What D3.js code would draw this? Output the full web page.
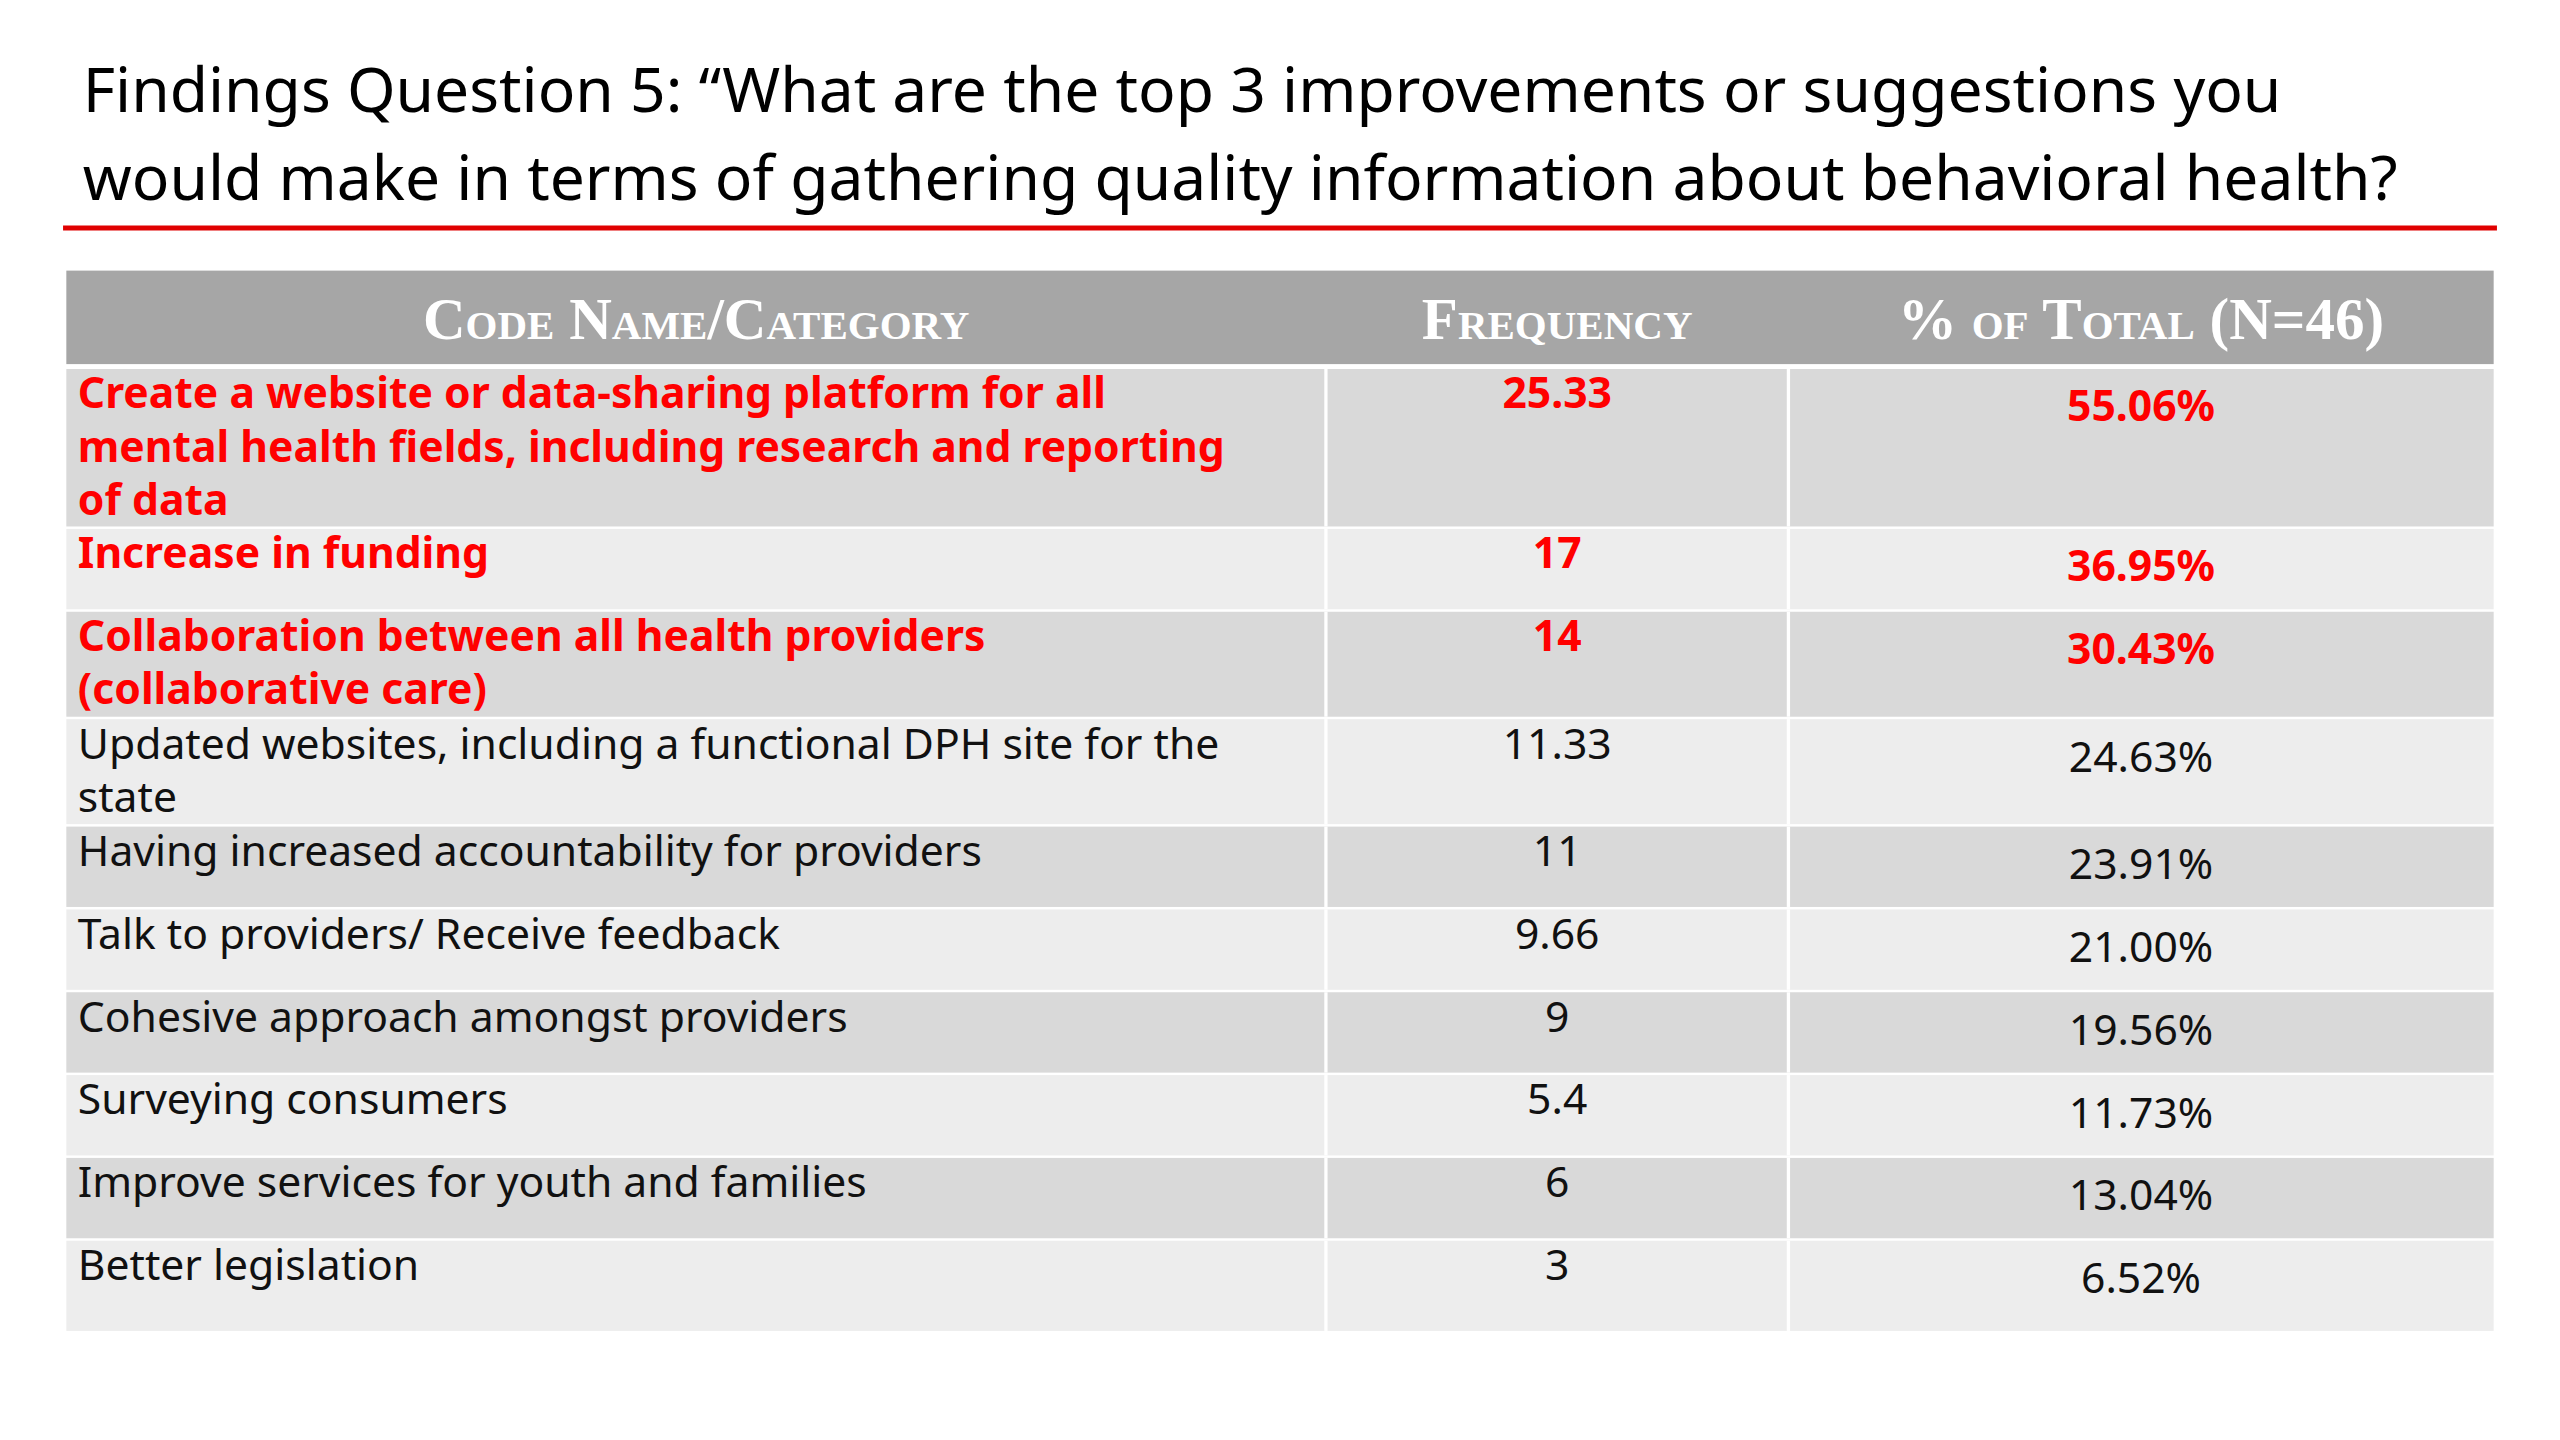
<!DOCTYPE html>
<html><head><meta charset="utf-8">
<script src="https://cdn.jsdelivr.net/npm/d3@7"></script>
<style>body{margin:0;background:#fff}svg{display:block}</style>
</head><body><svg id="chart"></svg>
<script>
var titleLines = ["Findings Question 5: \u201cWhat are the top 3 improvements or suggestions you",
  "would make in terms of gathering quality information about behavioral health?"];
var headers = ["Code Name/Category", "Frequency", "% of Total (N=46)"];
var categories = ["Create a website or data-sharing platform for all mental health fields, including research and reporting of data",
  "Increase in funding", "Collaboration between all health providers (collaborative care)",
  "Updated websites, including a functional DPH site for the state",
  "Having increased accountability for providers", "Talk to providers/ Receive feedback",
  "Cohesive approach amongst providers", "Surveying consumers",
  "Improve services for youth and families", "Better legislation"];
var frequencies = ["25.33", "17", "14", "11.33", "11", "9.66", "9", "5.4", "6", "3"];
var percents = ["55.06%", "36.95%", "30.43%", "24.63%", "23.91%", "21.00%", "19.56%", "11.73%", "13.04%", "6.52%"];
var topCount = 3;

var W = 1560, H = 878;
var svg = d3.select("#chart").attr("width", 2560).attr("height", 1440)
  .attr("viewBox", "0 0 " + W + " " + H);
var font = "'Noto Sans', 'Open Sans', sans-serif";

svg.selectAll("text.title").data(titleLines).enter().append("text")
  .attr("x", 50).attr("y", function (d, i) { return 68 + i * 54; })
  .attr("font-family", font).attr("font-size", 38).attr("fill", "#000").text(function (d) { return d; });
svg.append("line").attr("x1", 38).attr("x2", 1522).attr("y1", 139).attr("y2", 139)
  .attr("stroke", "#e00000").attr("stroke-width", 3);

var colX = [40, 808, 1090, 1520];

// header
svg.append("rect").attr("x", 40).attr("y", 165).attr("width", 1480).attr("height", 57).attr("fill", "#a6a6a6");
svg.selectAll("text.hdr").data(headers).enter().append("text")
  .attr("x", function (d, i) { return (colX[i] + colX[i + 1]) / 2; }).attr("y", 207)
  .attr("text-anchor", "middle").attr("font-family", "'Liberation Serif', serif")
  .attr("font-size", 36).attr("font-weight", "bold").attr("fill", "#fff")
  .style("font-variant", "small-caps").text(function (d) { return d; });

// wrap helper
var meas = svg.append("text").attr("font-family", font).attr("font-size", 27);
function wrap(s, bold) {
  meas.attr("font-weight", bold ? "bold" : "normal");
  var words = s.split(" "), lines = [], cur = "";
  words.forEach(function (w) {
    var t = cur ? cur + " " + w : w;
    meas.text(t);
    if (meas.node().getComputedTextLength() > 735 && cur) { lines.push(cur); cur = w; } else cur = t;
  });
  lines.push(cur);
  return lines;
}
var rows = categories.map(function (c, i) {
  return { cat: c, lines: wrap(c, i < topCount), freq: frequencies[i], pct: percents[i], top: i < topCount };
});
meas.remove();
var hByLines = [0, 49, 64, 96];
var y = 225;
rows.forEach(function (r, i) {
  r.y = y; r.h = hByLines[r.lines.length] + (i === rows.length - 1 ? 6 : 0); y += r.h + 1.5;
});

var g = svg.selectAll("g.row").data(rows).enter().append("g")
  .attr("transform", function (d) { return "translate(0," + d.y + ")"; });
g.append("rect").attr("x", 40).attr("width", 1480).attr("height", function (d) { return d.h; })
  .attr("fill", function (d, i) { return i % 2 === 0 ? "#d9d9d9" : "#ededed"; });
g.selectAll("line.sep").data([colX[1], colX[2]]).enter().append("line")
  .attr("x1", function (d) { return d; }).attr("x2", function (d) { return d; })
  .attr("y1", 0).attr("y2", function () { return d3.select(this.parentNode).datum().h; })
  .attr("stroke", "#fff").attr("stroke-width", 2);
function style(sel) {
  return sel.attr("font-family", font).attr("font-size", 26)
    .attr("font-weight", function (d) { return d.top ? "bold" : "normal"; })
    .attr("fill", function (d) { return d.top ? "#ff0000" : "#111"; });
}
var t = style(g.append("text").attr("x", 47).attr("y", 24));
t.selectAll("tspan").data(function (d) { return d.lines; }).enter().append("tspan")
  .attr("x", 47).attr("dy", function (d, i) { return i ? 32.5 : 0; }).text(function (d) { return d; });
style(g.append("text")).attr("x", (colX[1] + colX[2]) / 2).attr("y", 24).attr("text-anchor", "middle")
  .text(function (d) { return d.freq; });
style(g.append("text")).attr("x", (colX[2] + colX[3]) / 2).attr("y", 32).attr("text-anchor", "middle")
  .text(function (d) { return d.pct; });
</script></body></html>
